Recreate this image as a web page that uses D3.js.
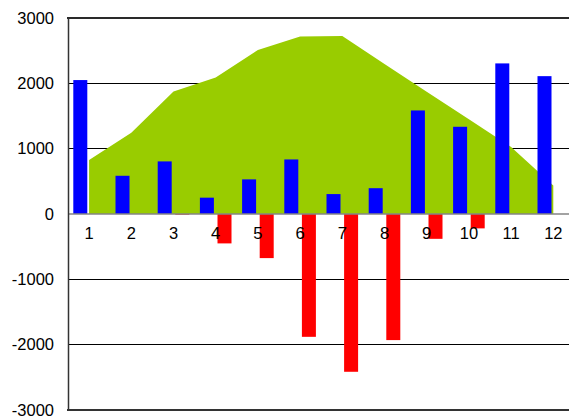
<!DOCTYPE html>
<html>
<head>
<meta charset="utf-8">
<script src="https://cdn.jsdelivr.net/npm/d3@7"></script>
<style>
  html, body { margin: 0; padding: 0; background: #fff; }
  svg { display: block; }
  text { font-family: "Liberation Sans", Arial, sans-serif; fill: #000; }
</style>
</head>
<body>
<div id="chart"></div>
<script>
// Monthly data: positive and negative components plus the cumulative profile
const months = [1, 2, 3, 4, 5, 6, 7, 8, 9, 10, 11, 12];
const positive = [2050, 585, 805, 250, 530, 835, 305, 395, 1585, 1335, 2305, 2110];
const negative = [0, 0, -10, -450, -675, -1880, -2415, -1930, -380, -220, 0, 0];
const profile = [825, 1245, 1875, 2090, 2510, 2715, 2725, 2295, 1870, 1450, 1025, 435];
const yTicks = [-3000, -2000, -1000, 0, 1000, 2000, 3000];

const W = 569, H = 417;
const plot = { left: 68, right: 574.4, top: 18, bottom: 410 };

const svg = d3.select("#chart").append("svg")
  .attr("width", W).attr("height", H);

const x = d3.scaleBand().domain(months).range([plot.left, plot.right]).padding(0);
const y = d3.scaleLinear().domain([-3000, 3000]).range([plot.bottom, plot.top]);

const barW = 14;
const barShift = 8.8;

// Horizontal gridlines (inner ones)
svg.append("g").selectAll("line")
  .data(yTicks.filter(d => d !== 0 && Math.abs(d) !== 3000))
  .join("line")
  .attr("x1", plot.left).attr("x2", W)
  .attr("y1", d => y(d)).attr("y2", d => y(d))
  .attr("stroke", "#000").attr("stroke-width", 1)
  .attr("shape-rendering", "crispEdges");

// Filled profile area between category centres
const area = d3.area()
  .x((d, i) => x(months[i]) + x.bandwidth() / 2)
  .y0(y(0))
  .y1(d => y(d));
svg.append("path")
  .datum(profile)
  .attr("d", area)
  .attr("fill", "#99cc00");

// Positive columns
svg.append("g").selectAll("rect")
  .data(positive)
  .join("rect")
  .attr("x", (d, i) => x(months[i]) + x.bandwidth() / 2 - barShift - barW / 2)
  .attr("width", barW)
  .attr("y", d => y(Math.max(0, d)))
  .attr("height", d => Math.abs(y(d) - y(0)))
  .attr("fill", "#0000ff");

// Negative columns
svg.append("g").selectAll("rect")
  .data(negative)
  .join("rect")
  .attr("x", (d, i) => x(months[i]) + x.bandwidth() / 2 + barShift - barW / 2)
  .attr("width", barW)
  .attr("y", d => y(Math.max(0, d)))
  .attr("height", d => Math.abs(y(d) - y(0)))
  .attr("fill", "#ff0000");

// Zero line
svg.append("line")
  .attr("x1", plot.left).attr("x2", W)
  .attr("y1", y(0)).attr("y2", y(0))
  .attr("stroke", "#858585").attr("stroke-width", 1.5);

// Top and bottom frame lines
svg.append("line")
  .attr("x1", plot.left - 1).attr("x2", W)
  .attr("y1", y(3000)).attr("y2", y(3000))
  .attr("stroke", "#2a2a2a").attr("stroke-width", 2);
svg.append("line")
  .attr("x1", plot.left - 1).attr("x2", W)
  .attr("y1", y(-3000)).attr("y2", y(-3000))
  .attr("stroke", "#333").attr("stroke-width", 2.2);

// Left value axis, plain integers with a hyphen for negatives
const yAxis = d3.axisLeft(y).tickValues(yTicks).tickSize(0).tickPadding(14)
  .tickFormat(d => String(d));
const gy = svg.append("g")
  .attr("transform", `translate(${plot.left},0)`)
  .call(yAxis);
gy.select(".domain").attr("stroke", "#333").attr("stroke-width", 1.5);
gy.selectAll("text")
  .style("font-size", "16.5px")
  .style("font-family", "'Liberation Sans', Arial, sans-serif")
  .attr("fill", "#000");

// Category labels just below the zero line
const xAxis = d3.axisBottom(x).tickSize(0).tickPadding(13);
const gx = svg.append("g")
  .attr("transform", `translate(0,${y(0)})`)
  .call(xAxis);
gx.select(".domain").remove();
gx.selectAll("text")
  .style("font-size", "16.5px")
  .style("font-family", "'Liberation Sans', Arial, sans-serif")
  .attr("fill", "#000");
</script>
</body>
</html>
